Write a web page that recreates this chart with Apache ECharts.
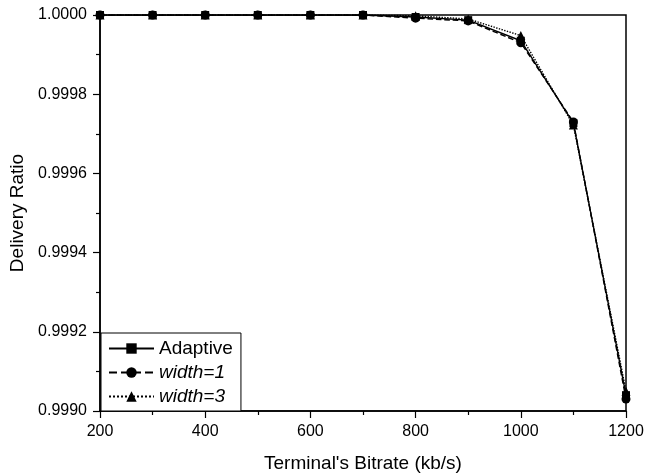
<!DOCTYPE html>
<html><head><meta charset="utf-8">
<script src="https://cdn.jsdelivr.net/npm/echarts@6/dist/echarts.min.js"></script>
<style>html,body{margin:0;padding:0;background:#fff}#c{width:645px;height:474px}</style>
</head><body><div id="c"></div>
<script>
const bitrates = [200,300,400,500,600,700,800,900,1000,1100,1200];
const adaptive = [1,1,1,1,1,1,0.999995,0.999987,0.999935,0.999727,0.99904];
const width1 = [1,1,1,1,1,1,0.999992,0.999985,0.99993,0.99973,0.99903];
const width3 = [1,1,1,1,1,1,0.999998,0.99999,0.999948,0.999722,0.99905];
const names = ['Adaptive','width=1','width=3'];

const F = 'Liberation Sans, Arial, sans-serif';
function pairs(v){ return bitrates.map((x,i)=>[x,v[i]]); }
function mk(name, data, sym, type, size){
  return {name, type:'line', data:pairs(data), symbol:sym, symbolSize:size,
    lineStyle:{color:'#000', width:1.4, type:type},
    itemStyle:{color:'#000'}, clip:true, animation:false};
}
const chart = echarts.init(document.getElementById('c'));
chart.setOption({
  backgroundColor:'#fff',
  animation:false,
  grid:{left:100,right:19,top:15,bottom:63,containLabel:false,outerBoundsMode:'none',
    show:true,borderColor:'#000',borderWidth:1.5,backgroundColor:'transparent'},
  xAxis:{type:'value',min:200,max:1200,interval:200,
    name:"Terminal's Bitrate (kb/s)",nameLocation:'middle',nameGap:43,
    nameTextStyle:{fontFamily:F,fontSize:19,color:'#000'},
    axisLine:{lineStyle:{color:'#000',width:1.5}},
    axisTick:{inside:false,length:7,lineStyle:{color:'#000',width:1.2}},
    minorTick:{show:true,splitNumber:2,length:4,lineStyle:{color:'#000',width:1.2}},
    splitLine:{show:false},
    axisLabel:{fontFamily:F,fontSize:16,color:'#000',margin:13,formatter:v=>String(v)}},
  yAxis:{type:'value',min:0.999,max:1.0,interval:0.0002,
    name:'Delivery Ratio',nameLocation:'middle',nameGap:72,
    nameTextStyle:{fontFamily:F,fontSize:19,color:'#000'},
    axisLine:{lineStyle:{color:'#000',width:1.5}},
    axisTick:{inside:false,length:7,lineStyle:{color:'#000',width:1.2}},
    minorTick:{show:true,splitNumber:2,length:4,lineStyle:{color:'#000',width:1.2}},
    splitLine:{show:false},
    axisLabel:{fontFamily:F,fontSize:16,color:'#000',margin:13,formatter:v=>v.toFixed(4)}},
  legend:{orient:'vertical',left:101,bottom:63,data:names,
    borderColor:'#000',borderWidth:1,borderRadius:0,padding:[5,8,4,7],
    itemWidth:45,itemHeight:13,itemGap:3,backgroundColor:'#fff',
    formatter:n=> n==='Adaptive'? n : '{i|'+n+'}',
    textStyle:{fontFamily:F,fontSize:19,lineHeight:21,color:'#000',rich:{i:{fontFamily:F,fontSize:19,lineHeight:21,fontStyle:'italic',color:'#000'}}}},
  series:[
    mk('width=3',width3,'triangle','dotted',9),
    mk('width=1',width1,'circle','dashed',9),
    mk('Adaptive',adaptive,'rect',  'solid',8)
  ]
});
</script></body></html>
